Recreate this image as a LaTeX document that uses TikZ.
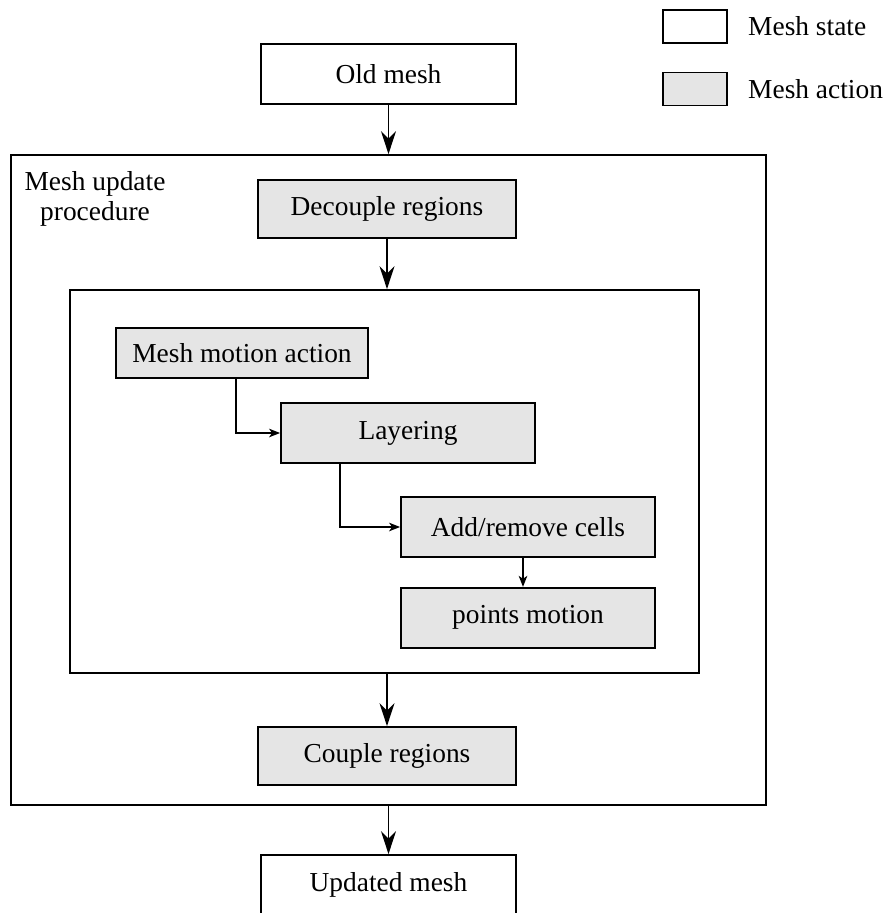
\documentclass[tikz,border=0pt]{standalone}
\usepackage{fontspec}
\setmainfont{Liberation Serif}
\usetikzlibrary{positioning, arrows.meta, calc}

\definecolor{actiongray}{gray}{0.9}

\begin{document}
\begin{tikzpicture}[
    every node/.style={font=\fontsize{15.6}{17}\selectfont, align=center},
    state/.style={draw, line width=1pt, fill=white, minimum width=5.1cm, minimum height=1.2cm},
    action/.style={draw, line width=1pt, fill=actiongray, minimum width=5.08cm, minimum height=1.2cm},
    frame/.style={draw, line width=1pt},
    flow/.style={-{Stealth[length=0.46cm, width=0.3cm, inset=0.15cm]}, line width=1pt},
    substep/.style={-{Stealth[length=0.22cm, width=0.17cm, inset=0.06cm]}, line width=1pt}
]

\clip (0,0) rectangle (17.66,-18.26);

% Frames
\node[frame, minimum width=15.1cm, minimum height=13cm] (outer) at (7.77,-9.6) {};
\node[frame, minimum width=12.58cm, minimum height=7.66cm] (inner) at (7.69,-9.63) {};
\node (proclabel) at (1.9,-3.98) {Mesh update\\procedure};

% Nodes
\node[state] (old) at (7.77,-1.48) {Old mesh};
\node[action, minimum width=5.16cm, minimum height=1.16cm] (decouple) at (7.74,-4.18) {Decouple regions};
\node[action, minimum width=5.04cm, minimum height=1cm] (motion) at (4.84,-7.06) {Mesh motion action};
\node[action] (layering) at (8.16,-8.66) {Layering};
\node[action] (addremove) at (10.56,-10.54) {Add/remove cells};
\node[action, below=0.58cm of addremove] (points) {points motion};
\node[action, minimum width=5.16cm, minimum height=1.16cm] (couple) at (7.74,-15.12) {Couple regions};
\node[state] (updated) at (7.77,-17.7) {Updated mesh};

% Legend
\node[state, minimum width=1.28cm, minimum height=0.66cm] (legstate) at (13.9,-0.53) {};
\node[action, minimum width=1.28cm, minimum height=0.66cm] (legaction) at (13.9,-1.78) {};
\node[right=0.4cm of legstate, inner sep=0pt] (legstatetext) {Mesh state};
\node[right=0.4cm of legaction, inner sep=0pt] (legactiontext) {Mesh action};

% Arrows
\draw[flow] (old) -- (outer);
\draw[flow] (decouple) -- (decouple |- inner.north);
\draw[substep] ([xshift=-0.12cm]motion.south) |- (layering.west);
\draw[substep] ([xshift=-1.36cm]layering.south) |- (addremove.west);
\draw[substep] ([xshift=-0.1cm]addremove.south) -- ([xshift=-0.1cm]points.north);
\draw[flow] (couple |- inner.south) -- (couple);
\draw[flow] (outer) -- (updated);

\end{tikzpicture}
\end{document}
